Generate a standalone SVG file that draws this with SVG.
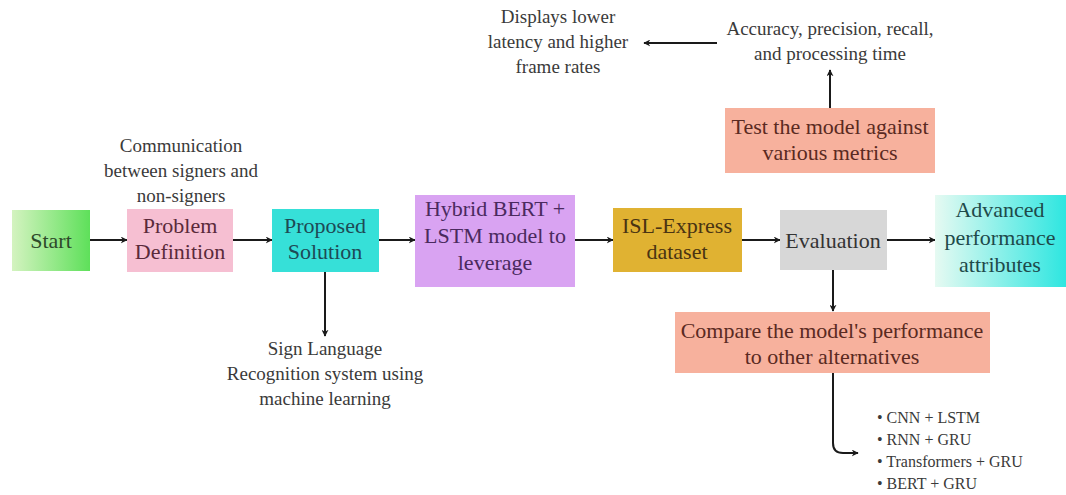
<svg xmlns="http://www.w3.org/2000/svg" width="1066" height="495" viewBox="0 0 1066 495">
  <style>
    .box-text { font-size: 22px; text-anchor: middle; }
    .note { font-size: 19px; fill: #3a3a3a; text-anchor: middle; }
    .bullet { font-size: 16px; fill: #3a3a3a; }
    .conn { stroke: #1a1a1a; stroke-width: 2; fill: none; }
  </style>
  <defs>
    <marker id="head" viewBox="0 0 10 10" refX="9" refY="5" markerWidth="7" markerHeight="7" markerUnits="userSpaceOnUse" orient="auto">
      <path d="M0,0 L10,5 L0,10 L3,5 z" fill="#1a1a1a"/>
    </marker>
    <linearGradient id="startFill" x1="0" y1="0" x2="1" y2="0">
      <stop offset="0" stop-color="#d4f3c0"/>
      <stop offset="1" stop-color="#5ee05a"/>
    </linearGradient>
    <linearGradient id="advFill" x1="0" y1="0" x2="1" y2="0">
      <stop offset="0" stop-color="#e6faf2"/>
      <stop offset="1" stop-color="#2ee6e0"/>
    </linearGradient>
  </defs>

  <rect width="1066" height="495" fill="#ffffff"/>

  <!-- connectors -->
  <g id="connectors">
    <line class="conn" x1="90" y1="240" x2="127" y2="240" marker-end="url(#head)"/>
    <line class="conn" x1="233" y1="240" x2="272" y2="240" marker-end="url(#head)"/>
    <line class="conn" x1="379" y1="240" x2="415" y2="240" marker-end="url(#head)"/>
    <line class="conn" x1="575" y1="240" x2="613" y2="240" marker-end="url(#head)"/>
    <line class="conn" x1="742" y1="240" x2="780" y2="240" marker-end="url(#head)"/>
    <line class="conn" x1="887" y1="240" x2="935" y2="240" marker-end="url(#head)"/>
    <line class="conn" x1="325" y1="272" x2="325" y2="336" marker-end="url(#head)"/>
    <line class="conn" x1="833" y1="270" x2="833" y2="311" marker-end="url(#head)"/>
    <line class="conn" x1="830" y1="108" x2="830" y2="70" marker-end="url(#head)"/>
    <line class="conn" x1="717" y1="43" x2="644" y2="43" marker-end="url(#head)"/>
    <path class="conn" d="M833,373 L833,443 Q833,453 843,453 L858,453" marker-end="url(#head)"/>
  </g>

  <g font-family="Liberation Serif, Times New Roman, Tinos, Noto Serif, DejaVu Serif, serif">
  <!-- nodes -->
  <g id="start">
    <rect x="12" y="210" width="78" height="61" fill="url(#startFill)"/>
    <text class="box-text" x="51" y="248" fill="#2e4a2a">Start</text>
  </g>

  <g id="problem-definition">
    <rect x="127" y="209" width="106" height="63" fill="#f6bfd2"/>
    <text class="box-text" x="180" y="233" fill="#5a2a3a">Problem</text>
    <text class="box-text" x="180" y="259" fill="#5a2a3a">Definition</text>
  </g>

  <g id="proposed-solution">
    <rect x="272" y="209" width="107" height="63" fill="#36e0d8"/>
    <text class="box-text" x="325" y="233" fill="#1e4a55">Proposed</text>
    <text class="box-text" x="325" y="259" fill="#1e4a55">Solution</text>
  </g>

  <g id="hybrid-model">
    <rect x="415" y="195" width="160" height="92" fill="#d9a3f2"/>
    <text class="box-text" x="495" y="216" fill="#4a2a5e">Hybrid BERT +</text>
    <text class="box-text" x="495" y="243" fill="#4a2a5e">LSTM model to</text>
    <text class="box-text" x="495" y="270" fill="#4a2a5e">leverage</text>
  </g>

  <g id="isl-express">
    <rect x="613" y="208" width="129" height="64" fill="#e0b232"/>
    <text class="box-text" x="677" y="233" fill="#4a3412">ISL-Express</text>
    <text class="box-text" x="677" y="259" fill="#4a3412">dataset</text>
  </g>

  <g id="evaluation">
    <rect x="780" y="210" width="107" height="60" fill="#d7d7d7"/>
    <text class="box-text" x="833" y="248" fill="#333333">Evaluation</text>
  </g>

  <g id="advanced-attributes">
    <rect x="935" y="195" width="131" height="92" fill="url(#advFill)"/>
    <text class="box-text" x="1000" y="217" fill="#1e4a4a">Advanced</text>
    <text class="box-text" x="1000" y="245" fill="#1e4a4a">performance</text>
    <text class="box-text" x="1000" y="272" fill="#1e4a4a">attributes</text>
  </g>

  <g id="test-metrics">
    <rect x="725" y="108" width="210" height="65" fill="#f7b19d"/>
    <text class="box-text" x="830" y="134" fill="#5a2a22">Test the model against</text>
    <text class="box-text" x="830" y="160" fill="#5a2a22">various metrics</text>
  </g>

  <g id="compare-alternatives">
    <rect x="675" y="312" width="315" height="61" fill="#f7b19d"/>
    <text class="box-text" x="832" y="338" fill="#5a2a22">Compare the model's performance</text>
    <text class="box-text" x="832" y="364" fill="#5a2a22">to other alternatives</text>
  </g>

  <!-- free-standing notes -->
  <g id="note-communication">
    <text class="note" x="181" y="152">Communication</text>
    <text class="note" x="181" y="177">between signers and</text>
    <text class="note" x="181" y="202">non-signers</text>
  </g>

  <g id="note-latency">
    <text class="note" x="558" y="23">Displays lower</text>
    <text class="note" x="558" y="48">latency and higher</text>
    <text class="note" x="558" y="73">frame rates</text>
  </g>

  <g id="note-metrics">
    <text class="note" x="830" y="35">Accuracy, precision, recall,</text>
    <text class="note" x="830" y="60">and processing time</text>
  </g>

  <g id="note-recognition">
    <text class="note" x="325" y="355">Sign Language</text>
    <text class="note" x="325" y="380">Recognition system using</text>
    <text class="note" x="325" y="405">machine learning</text>
  </g>

  <g id="note-alternatives">
    <text class="bullet" x="877" y="423">• CNN + LSTM</text>
    <text class="bullet" x="877" y="445">• RNN + GRU</text>
    <text class="bullet" x="877" y="467">• Transformers + GRU</text>
    <text class="bullet" x="877" y="489">• BERT + GRU</text>
  </g>
  </g>
</svg>
